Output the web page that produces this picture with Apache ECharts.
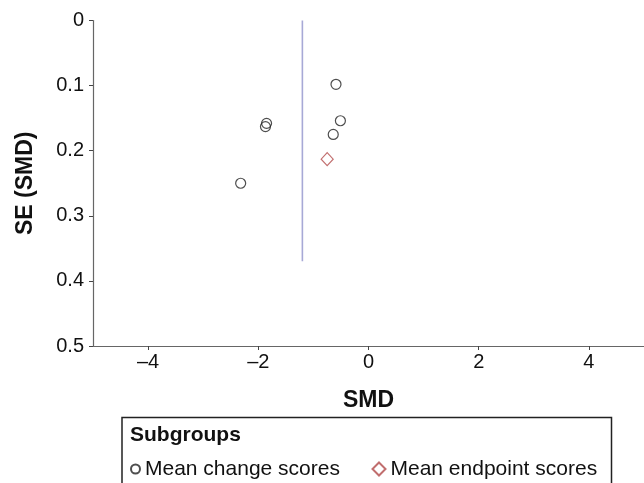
<!DOCTYPE html>
<html>
<head>
<meta charset="utf-8">
<script src="https://cdn.jsdelivr.net/npm/echarts@6/dist/echarts.min.js"></script>
<style>
html,body{margin:0;padding:0;background:#fff;}
#chart{width:644px;height:483px;}
</style>
</head>
<body>
<div id="chart"></div>
<script>
// Data
const changeSMD = [-0.59, -1.85, -1.87, -0.51, -0.64, -2.32];
const changeSE  = [0.098, 0.158, 0.163, 0.154, 0.175, 0.250];
const endpointSMD = [-0.75];
const endpointSE  = [0.213];
const pooledSMD = -1.20;
const pooledLineSE = [0, 0.37];
const xTicks = [-4, -2, 0, 2, 4];
const yTicks = [0, 0.1, 0.2, 0.3, 0.4, 0.5];
const seriesNames = ['Mean change scores', 'Mean endpoint scores'];
const legendTitle = 'Subgroups';

const FONT = "'Liberation Sans', Arial, sans-serif";
const chart = echarts.init(document.getElementById('chart'), null, {renderer: 'canvas'});

const changeData = changeSMD.map((x, i) => [x, changeSE[i]]);
const endpointData = endpointSMD.map((x, i) => [x, endpointSE[i]]);
const lineData = pooledLineSE.map(se => [pooledSMD, se]);

chart.setOption({
  animation: false,
  backgroundColor: '#fff',
  grid: {left: 93, right: -2, top: 20.5, bottom: 137},
  xAxis: {
    type: 'value', min: -5, max: 5, interval: 1,
    name: 'SMD', nameLocation: 'middle', nameGap: 43,
    nameTextStyle: {fontFamily: FONT, fontSize: 23, fontWeight: 'bold', color: '#111'},
    axisLine: {show: true, onZero: false, lineStyle: {color: '#666', width: 1.2}},
    axisTick: {show: true, length: 4, lineStyle: {color: '#444'},
      customValues: xTicks},
    axisLabel: {fontFamily: FONT, fontSize: 20, color: '#111', margin: 6,
      customValues: xTicks,
      formatter: v => String(v).replace('-', '\u2013')},
    splitLine: {show: false}
  },
  yAxis: {
    type: 'value', min: 0, max: 0.5, interval: 0.1, inverse: true,
    name: 'SE (SMD)', nameLocation: 'middle', nameGap: 56, nameRotate: 90,
    nameTextStyle: {fontFamily: FONT, fontSize: 23, fontWeight: 'bold', color: '#111'},
    axisLine: {show: true, onZero: false, lineStyle: {color: '#666', width: 1.2}},
    axisTick: {show: true, length: 4, lineStyle: {color: '#444'}},
    axisLabel: {fontFamily: FONT, fontSize: 20, color: '#111', margin: 9,
      formatter: v => yTicks.includes(Math.round(v * 10) / 10) ? String(Math.round(v * 10) / 10) : ''},
    splitLine: {show: false}
  },
  legend: [
    {
      data: [seriesNames[0]], left: 130, top: 457, padding: 0,
      itemWidth: 9, itemHeight: 9,
      textStyle: {fontFamily: FONT, fontSize: 21, color: '#111', lineHeight: 24}
    },
    {
      data: [seriesNames[1]], left: 371.5, top: 457, padding: 0,
      itemWidth: 13, itemHeight: 13,
      textStyle: {fontFamily: FONT, fontSize: 21, color: '#111', lineHeight: 24}
    }
  ],
  graphic: [
    {type: 'rect', shape: {x: 122, y: 417.5, width: 489.5, height: 120},
      style: {fill: 'none', stroke: '#222', lineWidth: 1.5}, silent: true},
    {type: 'text', x: 130, y: 435, style: {text: legendTitle, fontFamily: FONT,
      fontSize: 21, fontWeight: 'bold', fill: '#111', verticalAlign: 'middle'}}
  ],
  series: [
    {
      type: 'line', data: lineData, symbol: 'none', silent: true,
      lineStyle: {color: '#a7a9d6', width: 1.6}, z: 1
    },
    {
      name: seriesNames[0], type: 'scatter', data: changeData,
      symbol: 'circle', symbolSize: 10,
      itemStyle: {color: 'rgba(255,255,255,0)', borderColor: '#222', borderWidth: 1.2}, z: 3
    },
    {
      name: seriesNames[1], type: 'scatter', data: endpointData,
      symbol: 'diamond', symbolSize: [12, 13],
      itemStyle: {color: 'rgba(255,255,255,0)', borderColor: '#b24a4a', borderWidth: 1.2}, z: 3
    }
  ]
});
</script>
</body>
</html>
